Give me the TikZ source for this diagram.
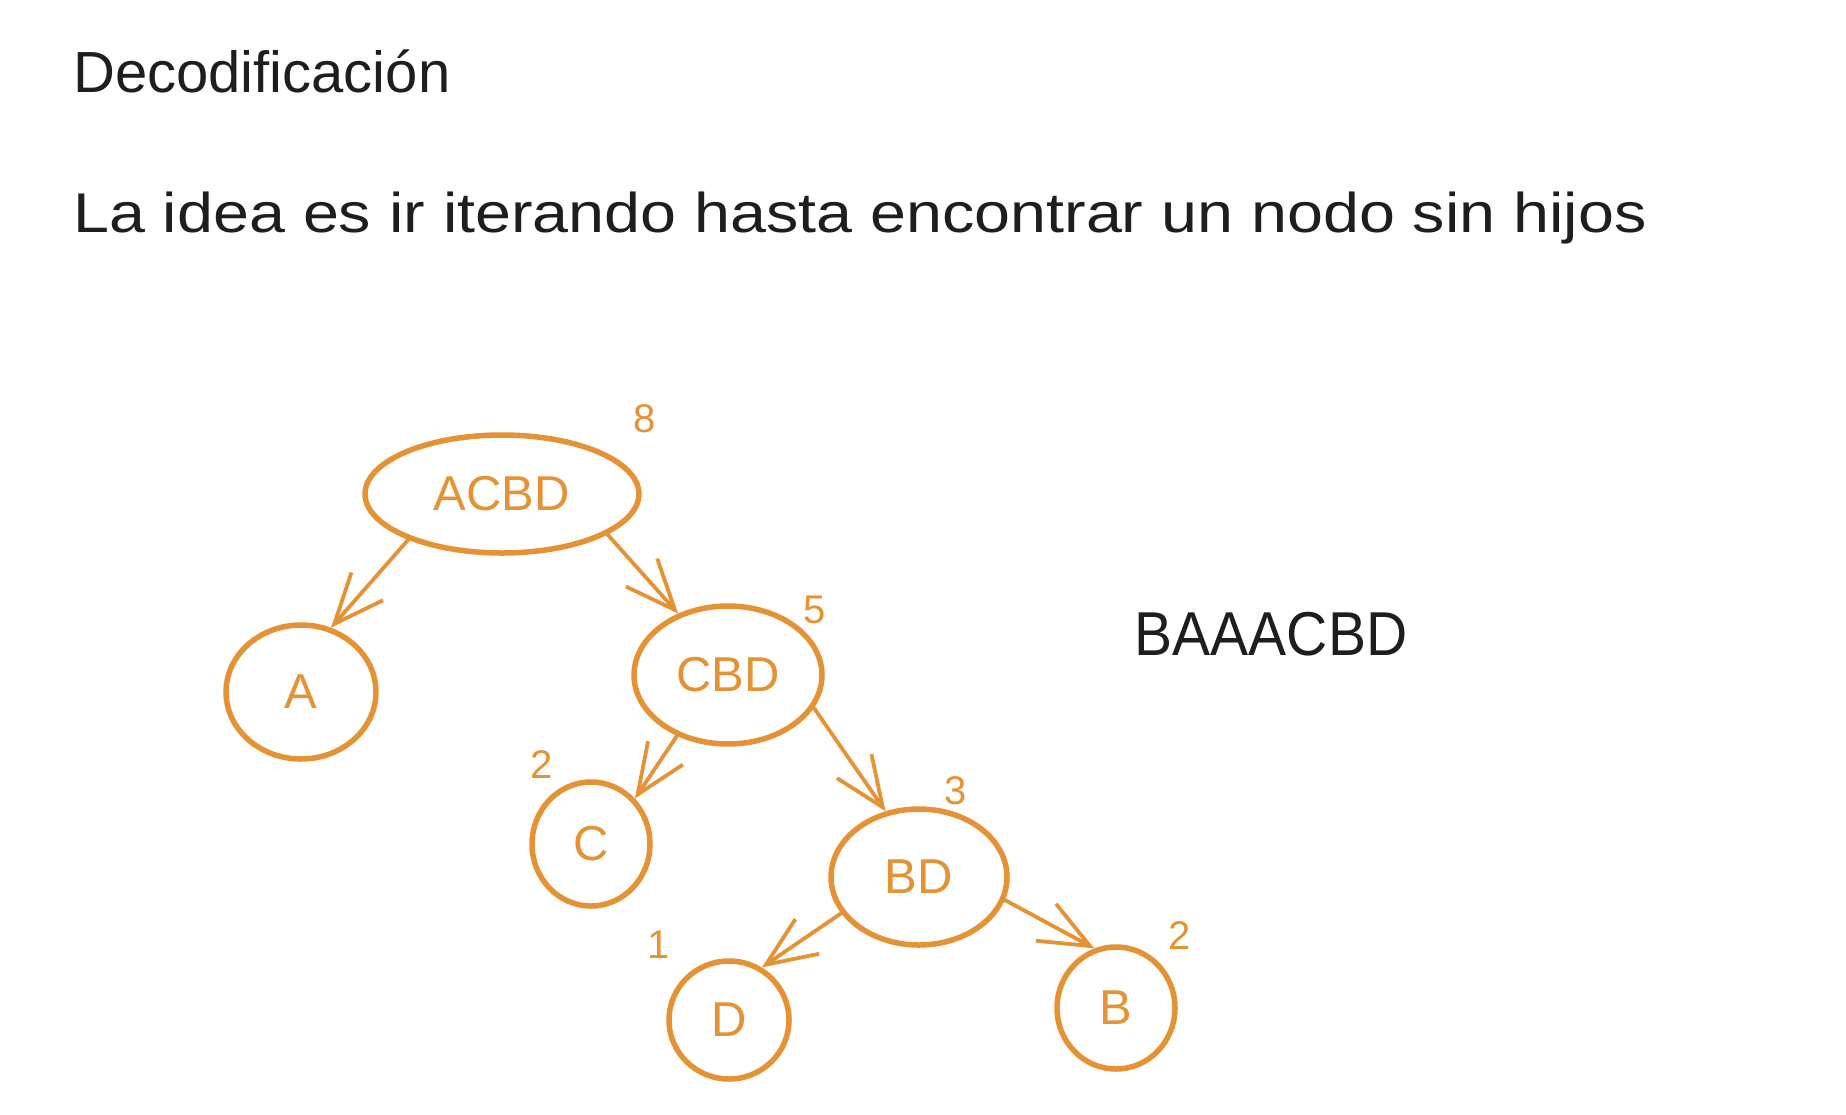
\documentclass[tikz,border=0pt]{standalone}
\usepackage{fontspec}
\setmainfont{Liberation Sans}
\usetikzlibrary{shapes.geometric,arrows.meta}
\definecolor{sketchorange}{RGB}{229,146,52}
\definecolor{ink}{RGB}{30,30,30}
\begin{document}
\begin{tikzpicture}[x=1pt,y=-1pt,
  tnode/.style={ellipse, draw=sketchorange, line width=5.5pt, inner sep=0pt,
    text=sketchorange, font=\fontsize{49}{50}\selectfont},
  numlabel/.style={text=sketchorange, inner sep=0pt, font=\fontsize{40}{40}\selectfont},
  inktext/.style={text=ink, inner sep=0pt},
  arr/.style={draw=sketchorange, line width=3.8pt, line cap=round,
    -{Straight Barb[length=50pt,width=42pt,line width=3.8pt]}}]
\useasboundingbox (0,0) rectangle (1846,1114);
\fill[white] (0,0) rectangle (1846,1114);

\node[inktext, anchor=base west, font=\fontsize{58}{60}\selectfont] (title) at (73,92) {Decodificación};
\node[inktext, anchor=base west, font=\fontsize{56}{60}\selectfont] (subtitle) at (73,232)
  {\scalebox{1.154}[1]{La idea es ir iterando hasta encontrar un nodo sin hijos}};
\node[inktext, anchor=base, font=\fontsize{62}{64}\selectfont] (result) at (1271,655)
  {\scalebox{0.92}[1]{BAAACBD}};

\node[tnode, minimum width=274pt, minimum height=118pt] (root) at (502,494) {ACBD};
\node[tnode, minimum width=150pt, minimum height=134pt] (A) at (301,692) {A};
\node[tnode, minimum width=188pt, minimum height=138pt] (CBD) at (728,675) {CBD};
\node[tnode, minimum width=118pt, minimum height=124pt] (C) at (591,844) {C};
\node[tnode, minimum width=176pt, minimum height=136pt] (BD) at (919,877) {BD};
\node[tnode, minimum width=120pt, minimum height=118pt] (D) at (729,1020) {D};
\node[tnode, minimum width=118pt, minimum height=122pt] (B) at (1116,1008) {B};

\node[numlabel] (n8) at (645,419) {8};
\node[numlabel] (n5) at (815,610) {5};
\node[numlabel] (n2c) at (542,765) {2};
\node[numlabel] (n3) at (956,791) {3};
\node[numlabel] (n1) at (659,945) {1};
\node[numlabel] (n2b) at (1180,936) {2};

\draw[arr] (root.206) -- (A.65);
\draw[arr] (root.339) -- (CBD.129);
\draw[arr] (CBD.230) -- (C.46);
\draw[arr] (CBD.339) -- (BD.117);
\draw[arr] (BD.205) -- (D.58);
\draw[arr] (BD.345) -- (B.110);
\end{tikzpicture}
\end{document}
